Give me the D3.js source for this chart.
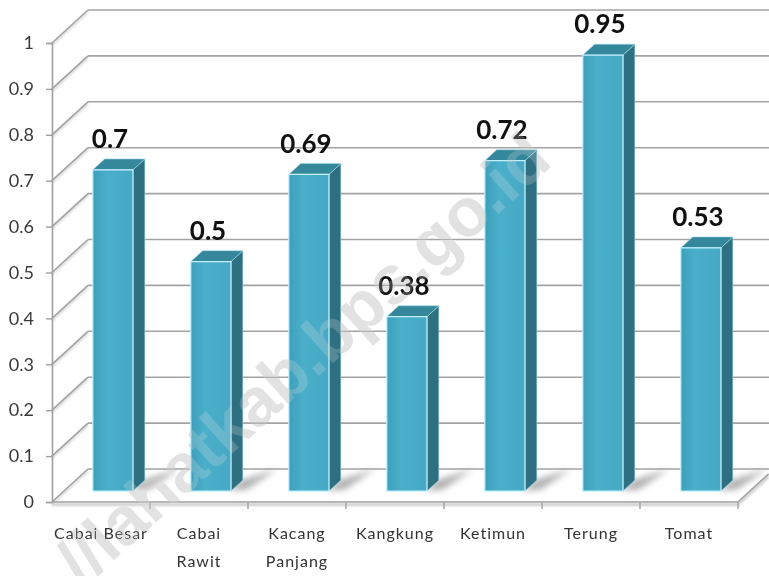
<!DOCTYPE html>
<html>
<head>
<meta charset="utf-8">
<script src="https://cdn.jsdelivr.net/npm/d3@7"></script>
<style>
  html, body { margin: 0; padding: 0; background: #fff; }
  svg { display: block; }
</style>
</head>
<body>
<div class="chart"></div>
<script>
// Data
const categories = ["Cabai Besar", "Cabai Rawit", "Kacang Panjang", "Kangkung", "Ketimun", "Terung", "Tomat"];
const categoryLines = [["Cabai Besar"], ["Cabai", "Rawit"], ["Kacang", "Panjang"], ["Kangkung"], ["Ketimun"], ["Terung"], ["Tomat"]];
const values = [0.7, 0.5, 0.69, 0.38, 0.72, 0.95, 0.53];
const valueLabels = ["0.7", "0.5", "0.69", "0.38", "0.72", "0.95", "0.53"];
const yTicks = [0, 0.1, 0.2, 0.3, 0.4, 0.5, 0.6, 0.7, 0.8, 0.9, 1];
const yTickLabels = ["0", "0.1", "0.2", "0.3", "0.4", "0.5", "0.6", "0.7", "0.8", "0.9", "1"];
const watermark = "//lahatkab.bps.go.id";

// Constants
const WIDTH = 769;
const HEIGHT = 576;
const LEFT = 52, RIGHT = 738, TOP = 43, BOTTOM = 502;
const DEPTH_X = 36, DEPTH_Y = 33;     // offset of the back wall
const Z_FRONT = 0.33, Z_BACK = 0.66;  // depth of the bars

const svg = d3.select(".chart")
  .append("svg")
    .attr("width", WIDTH)
    .attr("height", HEIGHT);

const defs = svg.append("defs");
const grad = defs.append("linearGradient").attr("id", "front").attr("x1", 0).attr("x2", 1);
grad.append("stop").attr("offset", "0%").attr("stop-color", "#3e9fbb");
grad.append("stop").attr("offset", "35%").attr("stop-color", "#4aafca");
grad.append("stop").attr("offset", "100%").attr("stop-color", "#46a8c4");
defs.append("filter").attr("id", "blur").attr("x", "-50%").attr("y", "-50%").attr("width", "200%").attr("height", "200%")
  .append("feGaussianBlur").attr("stdDeviation", 3);
defs.append("filter").attr("id", "soft")
  .append("feGaussianBlur").attr("stdDeviation", 1);

// Scales
const y = d3.scaleLinear().domain([0, 1]).range([BOTTOM, TOP]);
const xSlot = d3.scaleBand().domain(categories).range([LEFT, RIGHT]).padding(0);
const xBar = d3.scaleBand().domain(categories).range([LEFT, RIGHT]).paddingInner(0.59).paddingOuter(0.295);

// project a point at depth z (0 = front, 1 = back wall)
const proj = (x, yy, z) => [x + z * DEPTH_X, yy - z * DEPTH_Y];
const line = d3.line();

// Back wall gridlines and left wall diagonals
const grid = svg.append("g").attr("class", "grid");
yTicks.forEach(t => {
  const back = [proj(LEFT, y(t), 1), proj(RIGHT + 60, y(t), 1)];
  const side = [[LEFT, y(t)], proj(LEFT, y(t), 1)];
  [back, side].forEach(pts => {
    grid.append("path").attr("d", line(pts.map(p => [p[0], p[1] + 2])))
      .attr("stroke", "#d6d6d6").attr("stroke-width", 2).attr("fill", "none").attr("filter", "url(#soft)");
    grid.append("path").attr("d", line(pts))
      .attr("stroke", "#a3a3a3").attr("stroke-width", 1.6).attr("fill", "none");
  });
});

// Floor edges
const floor = [[LEFT, BOTTOM], [RIGHT, BOTTOM], proj(RIGHT, BOTTOM, 0.85)];
svg.append("path").attr("d", line(floor.map(p => [p[0], p[1] + 2.5])))
  .attr("stroke", "#cfcfcf").attr("stroke-width", 3).attr("fill", "none").attr("filter", "url(#soft)");
svg.append("path").attr("d", line(floor))
  .attr("stroke", "#a3a3a3").attr("stroke-width", 1.6).attr("fill", "none");

// Y axis
const yAxis = d3.axisLeft(y)
  .tickValues(yTicks)
  .tickFormat((d, i) => yTickLabels[i])
  .tickSize(6)
  .tickPadding(12);
const yg = svg.append("g").attr("transform", `translate(${LEFT},0)`).call(yAxis);
yg.select(".domain").attr("stroke", "#a0a0a0").attr("stroke-width", 1.6);
yg.selectAll(".tick line").attr("stroke", "#a0a0a0").attr("stroke-width", 1.4);
yg.selectAll(".tick text")
  .attr("font-family", "Lato, sans-serif").attr("font-size", 18).attr("fill", "#3a3a3a");

// X axis ticks at slot boundaries
const xg = svg.append("g");
xg.selectAll("line.xtick")
  .data(categories.slice(1).concat([null]))
  .join("line")
    .attr("class", "xtick")
    .attr("x1", d => d ? xSlot(d) : RIGHT)
    .attr("x2", d => d ? xSlot(d) : RIGHT)
    .attr("y1", BOTTOM)
    .attr("y2", BOTTOM + 7)
    .attr("stroke", "#a0a0a0").attr("stroke-width", 1.4);

// Bars
const bars = svg.append("g").attr("class", "bars")
  .selectAll("g")
  .data(categories.map((c, i) => ({ c, v: values[i], label: valueLabels[i] })))
  .join("g");

const pts = d => {
  const xl = xBar(d.c), xr = xl + xBar.bandwidth(), yt = y(d.v), yb = y(0);
  return { xl, xr, yt, yb };
};

// floor shadow
bars.append("path")
  .attr("d", d => {
    const p = pts(d);
    return line([proj(p.xr - 2, p.yb, Z_FRONT), proj(p.xr - 2, p.yb, Z_BACK),
                 proj(p.xr + 22, p.yb, 1.0), proj(p.xr + 14, p.yb, Z_FRONT + 0.05)]) + "Z";
  })
  .attr("fill", "#8e8e8e").attr("opacity", 0.7).attr("filter", "url(#blur)");

// side face
bars.append("path")
  .attr("d", d => {
    const p = pts(d);
    return line([proj(p.xr, p.yt, Z_FRONT), proj(p.xr, p.yt, Z_BACK),
                 proj(p.xr, p.yb, Z_BACK), proj(p.xr, p.yb, Z_FRONT)]) + "Z";
  })
  .attr("fill", "#2e6f81").attr("stroke", "#9fd8e8").attr("stroke-width", 0.6);

// top face
bars.append("path")
  .attr("d", d => {
    const p = pts(d);
    return line([proj(p.xl, p.yt, Z_FRONT), proj(p.xr, p.yt, Z_FRONT),
                 proj(p.xr, p.yt, Z_BACK), proj(p.xl, p.yt, Z_BACK)]) + "Z";
  })
  .attr("fill", "#35879c").attr("stroke", "#9fd8e8").attr("stroke-width", 0.6);

// front face
bars.append("path")
  .attr("d", d => {
    const p = pts(d);
    return line([proj(p.xl, p.yt, Z_FRONT), proj(p.xr, p.yt, Z_FRONT),
                 proj(p.xr, p.yb, Z_FRONT), proj(p.xl, p.yb, Z_FRONT)]) + "Z";
  })
  .attr("fill", "url(#front)").attr("stroke", "#c4f1ff").attr("stroke-width", 1.2);

// Value labels
bars.append("text")
  .text(d => d.label)
  .attr("x", d => proj(xBar(d.c) + xBar.bandwidth() / 2, 0, 0.25)[0])
  .attr("y", d => proj(0, y(d.v), Z_BACK)[1] - 11)
  .attr("text-anchor", "middle")
  .attr("font-family", "Lato, sans-serif")
  .attr("font-weight", "bold")
  .attr("font-size", 26)
  .attr("fill", "#111");

// Category labels
const catLabels = svg.append("g").selectAll("text")
  .data(categories)
  .join("text")
    .attr("x", d => xSlot(d) + xSlot.bandwidth() / 2)
    .attr("y", 539)
    .attr("text-anchor", "middle")
    .attr("font-family", "Lato, sans-serif")
    .attr("font-size", 16)
    .attr("letter-spacing", 1)
    .attr("fill", "#333");
catLabels.selectAll("tspan")
  .data((d, i) => categoryLines[i])
  .join("tspan")
    .attr("x", function () { return d3.select(this.parentNode).attr("x"); })
    .attr("dy", (d, i) => i === 0 ? 0 : 28)
    .text(d => d);

// Watermark: light grey on white, only a faint veil over the bars
[["darken", 1], ["normal", 0.22]].forEach(([mode, op]) => {
  svg.append("text")
    .text(watermark)
    .attr("transform", "translate(554,164) rotate(-42)")
    .attr("text-anchor", "end")
    .attr("font-family", "'Liberation Sans', Arial, sans-serif")
    .attr("font-weight", "bold")
    .attr("font-size", 68)
    .attr("fill", "#e2e2e2")
    .attr("opacity", op)
    .style("mix-blend-mode", mode);
});
</script>
</body>
</html>
